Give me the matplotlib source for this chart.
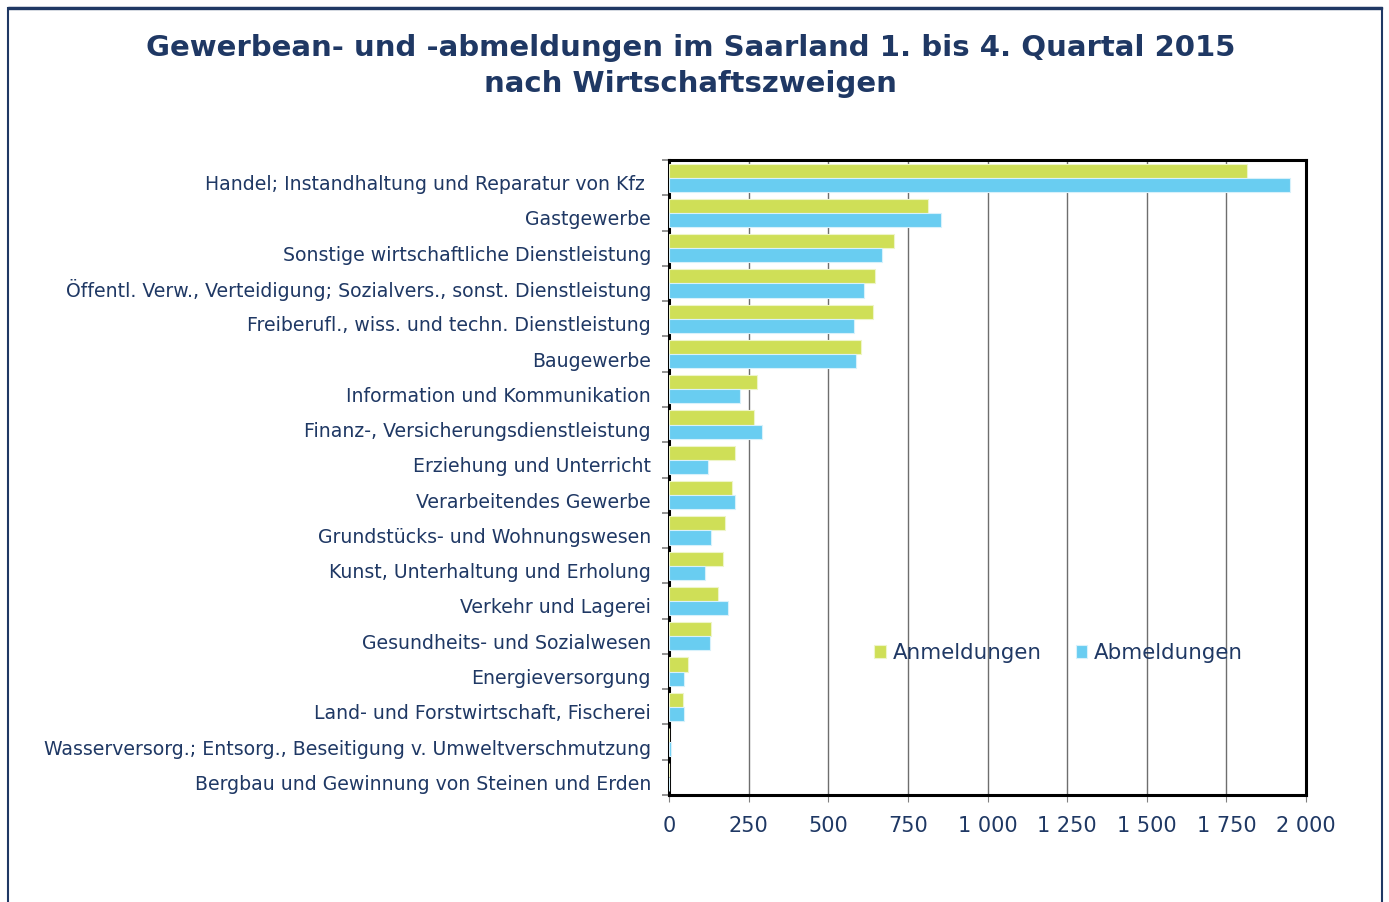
import matplotlib.pyplot as plt
import matplotlib.ticker as mticker
import matplotlib.transforms as mtransforms
from matplotlib.patches import Rectangle
import numpy as np

categories = [
    "Handel; Instandhaltung und Reparatur von Kfz ",
    "Gastgewerbe",
    "Sonstige wirtschaftliche Dienstleistung",
    "Öffentl. Verw., Verteidigung; Sozialvers., sonst. Dienstleistung",
    "Freiberufl., wiss. und techn. Dienstleistung",
    "Baugewerbe",
    "Information und Kommunikation",
    "Finanz-, Versicherungsdienstleistung",
    "Erziehung und Unterricht",
    "Verarbeitendes Gewerbe",
    "Grundstücks- und Wohnungswesen",
    "Kunst, Unterhaltung und Erholung",
    "Verkehr und Lagerei",
    "Gesundheits- und Sozialwesen",
    "Energieversorgung",
    "Land- und Forstwirtschaft, Fischerei",
    "Wasserversorg.; Entsorg., Beseitigung v. Umweltverschmutzung",
    "Bergbau und Gewinnung von Steinen und Erden",
]
anmeldungen = [1816, 813, 705, 646, 641, 602, 277, 267, 206, 199, 176, 171, 155, 131, 59, 43, 1, 0]
abmeldungen = [1951, 855, 670, 613, 580, 586, 223, 293, 122, 208, 131, 113, 186, 129, 47, 47, 5, 0]
x_ticks = [0, 250, 500, 750, 1000, 1250, 1500, 1750, 2000]

NAVY = "#1f3864"
GREEN = "#cfdf57"
BLUE = "#69cdf1"

fig = plt.figure(figsize=(13.89, 9.02), dpi=100)
ax = fig.add_axes([669 / 1389, 1 - 795 / 902, (1306 - 669) / 1389, (795 - 160) / 902])

# outer frame of the figure
fig.patches.append(Rectangle((8 / 1389, -0.1), (1382 - 8) / 1389, 1.1 - 8 / 902,
                             transform=fig.transFigure, fill=False,
                             edgecolor=NAVY, linewidth=1.5))
fig.patches.append(Rectangle((8 / 1389, 1 - 9 / 902), (1382 - 8) / 1389, 2 / 902,
                             transform=fig.transFigure, color=NAVY))

n = len(categories)
y = np.arange(n)
h = 0.4
ax.barh(y - h / 2, anmeldungen, h, color=GREEN, edgecolor="#eef5c8", linewidth=0.8,
        label="Anmeldungen", zorder=3)
ax.barh(y + h / 2, abmeldungen, h, color=BLUE, edgecolor="#d7f1fb", linewidth=0.8,
        label="Abmeldungen", zorder=3)

ax.set_ylim(n - 0.5, -0.5)
ax.set_xlim(0, 2000)

ax.set_yticks(y)
ax.set_yticklabels(categories, fontsize=13.6, color=NAVY)
ax.set_yticks(np.arange(n + 1) - 0.5, minor=True)
ax.tick_params(axis="y", which="major", length=0, pad=13)
ax.tick_params(axis="y", which="minor", length=5, color="#808080", width=1.2)
# labels sit a little below the category centre in the original
shift = mtransforms.ScaledTranslation(0, -5 / 100, fig.dpi_scale_trans)
for lab in ax.get_yticklabels():
    lab.set_transform(lab.get_transform() + shift)

ax.set_xticks(x_ticks)
ax.xaxis.set_major_formatter(mticker.FuncFormatter(lambda v, p: f"{int(v):,}".replace(",", " ")))
ax.tick_params(axis="x", length=5, color="#808080", labelsize=15, labelcolor=NAVY, pad=10)

ax.grid(axis="x", color="#6e6e6e", linewidth=1.0, zorder=0)
for s in ax.spines.values():
    s.set_color("black")
    s.set_linewidth(2.2)

ax.legend(loc="upper left", bbox_to_anchor=(0.292, 0.269), ncol=2, frameon=False,
          fontsize=15.4, handlelength=0.55, handleheight=0.55, handletextpad=0.3,
          columnspacing=1.6, labelcolor=NAVY)

fig.text(0.497, 1 - 48 / 902, "Gewerbean- und -abmeldungen im Saarland 1. bis 4. Quartal 2015",
         ha="center", va="center", fontsize=21, fontweight="bold", color=NAVY)
fig.text(0.497, 1 - 84 / 902, "nach Wirtschaftszweigen",
         ha="center", va="center", fontsize=21, fontweight="bold", color=NAVY)

fig.savefig("out.png", dpi=100)
